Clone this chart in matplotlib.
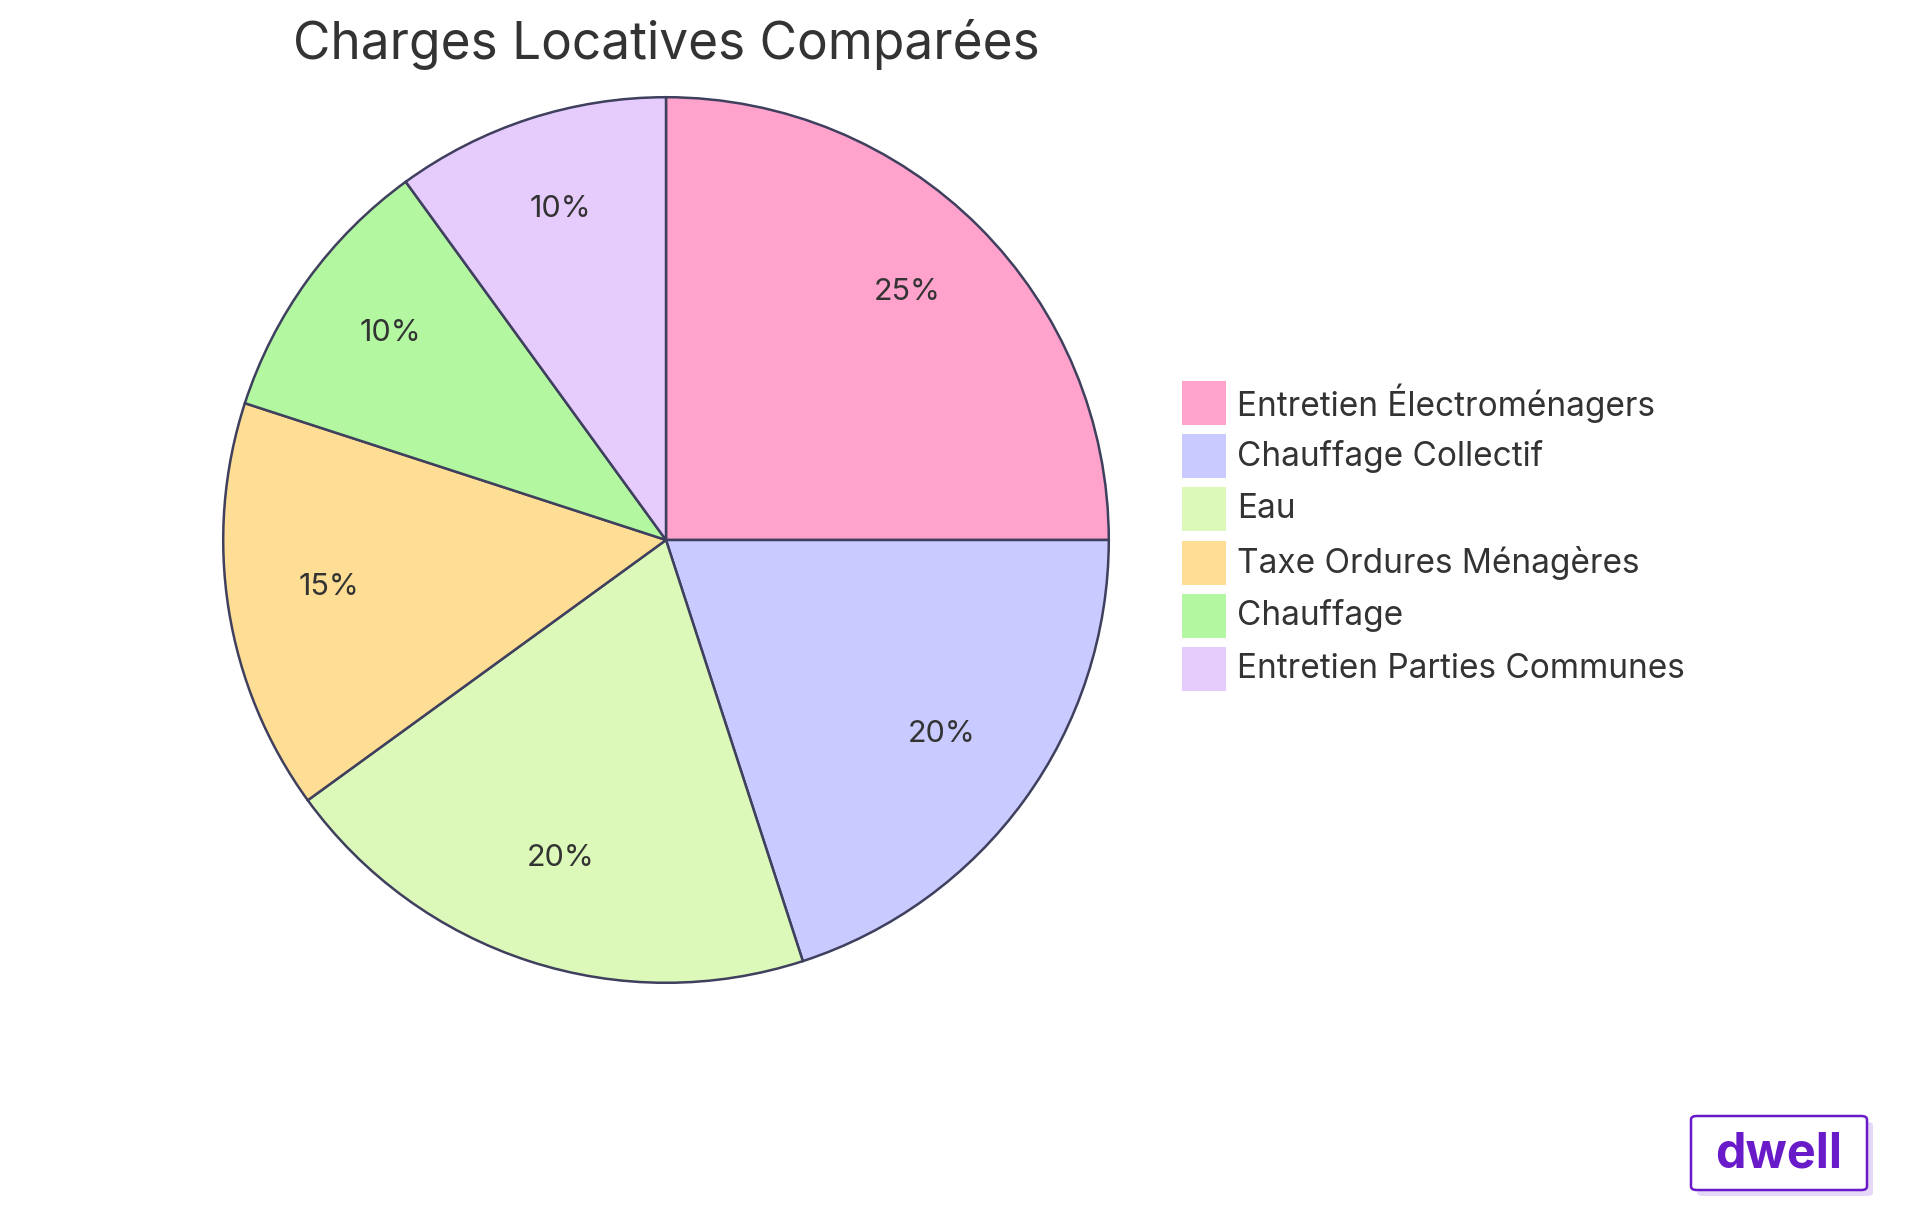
import matplotlib
matplotlib.use("Agg")
import matplotlib.pyplot as plt
from matplotlib.patches import FancyBboxPatch, Rectangle

plt.rcParams['font.family'] = ['Inter', 'DejaVu Sans']

categories = ["Entretien Électroménagers", "Chauffage Collectif", "Eau",
              "Taxe Ordures Ménagères", "Chauffage", "Entretien Parties Communes"]
values = [25, 20, 20, 15, 10, 10]
colors = ["#FFA3CD", "#C9CAFF", "#DCF9B9", "#FEDE94", "#B3F8A0", "#E6CBFD"]
title = "Charges Locatives Comparées"

W, H = 1920, 1215
fig = plt.figure(figsize=(W/100, H/100), dpi=100)
cx, cy, r = 666, 540, 445
ax = fig.add_axes([(cx-r)/W, (H-cy-r)/H, 2*r/W, 2*r/H])
wedges, texts, autotexts = ax.pie(values, colors=colors, startangle=90, counterclock=False,
       autopct='%d%%', pctdistance=0.77,
       wedgeprops=dict(edgecolor='#3F3F5E', linewidth=1.8),
       textprops=dict(fontsize=22, color='#333333'))
for t in autotexts:
    x, y = t.get_position()
    t.set_position((x, y + 0.015))
ax.set_xlim(-1.005, 1.005); ax.set_ylim(-1.005, 1.005)
ax.set_aspect('equal')

fig.text(cx/W, 1-44/H, title, ha='center', va='center', fontsize=37, color='#333333')

# legend
for i, (c, lab) in enumerate(zip(colors, categories)):
    y = 403 + i*53.2
    fig.patches.append(Rectangle((1182/W, 1-(y+22)/H), 44/W, 44/H, transform=fig.transFigure,
                                 facecolor=c, edgecolor='none'))
    fig.text(1237/W, 1-y/H, lab, ha='left', va='center', fontsize=24, color='#333333')

# logo
fig.patches.append(FancyBboxPatch((1697/W, 1-1196/H), 176/W, 74/H, transform=fig.transFigure,
                                  boxstyle='round,pad=0,rounding_size=0.003', facecolor='#E6D9F7', edgecolor='none'))
fig.patches.append(FancyBboxPatch((1691/W, 1-1190/H), 176/W, 74/H, transform=fig.transFigure,
                                  boxstyle='round,pad=0,rounding_size=0.003', facecolor='white', edgecolor='#6A1BC9', linewidth=1.8))
fig.text(1779/W, 1-1154/H, "dwell", ha='center', va='center', fontsize=35, fontweight='bold', color='#6A1BC9')

fig.savefig("out.png", dpi=100, facecolor='white')
